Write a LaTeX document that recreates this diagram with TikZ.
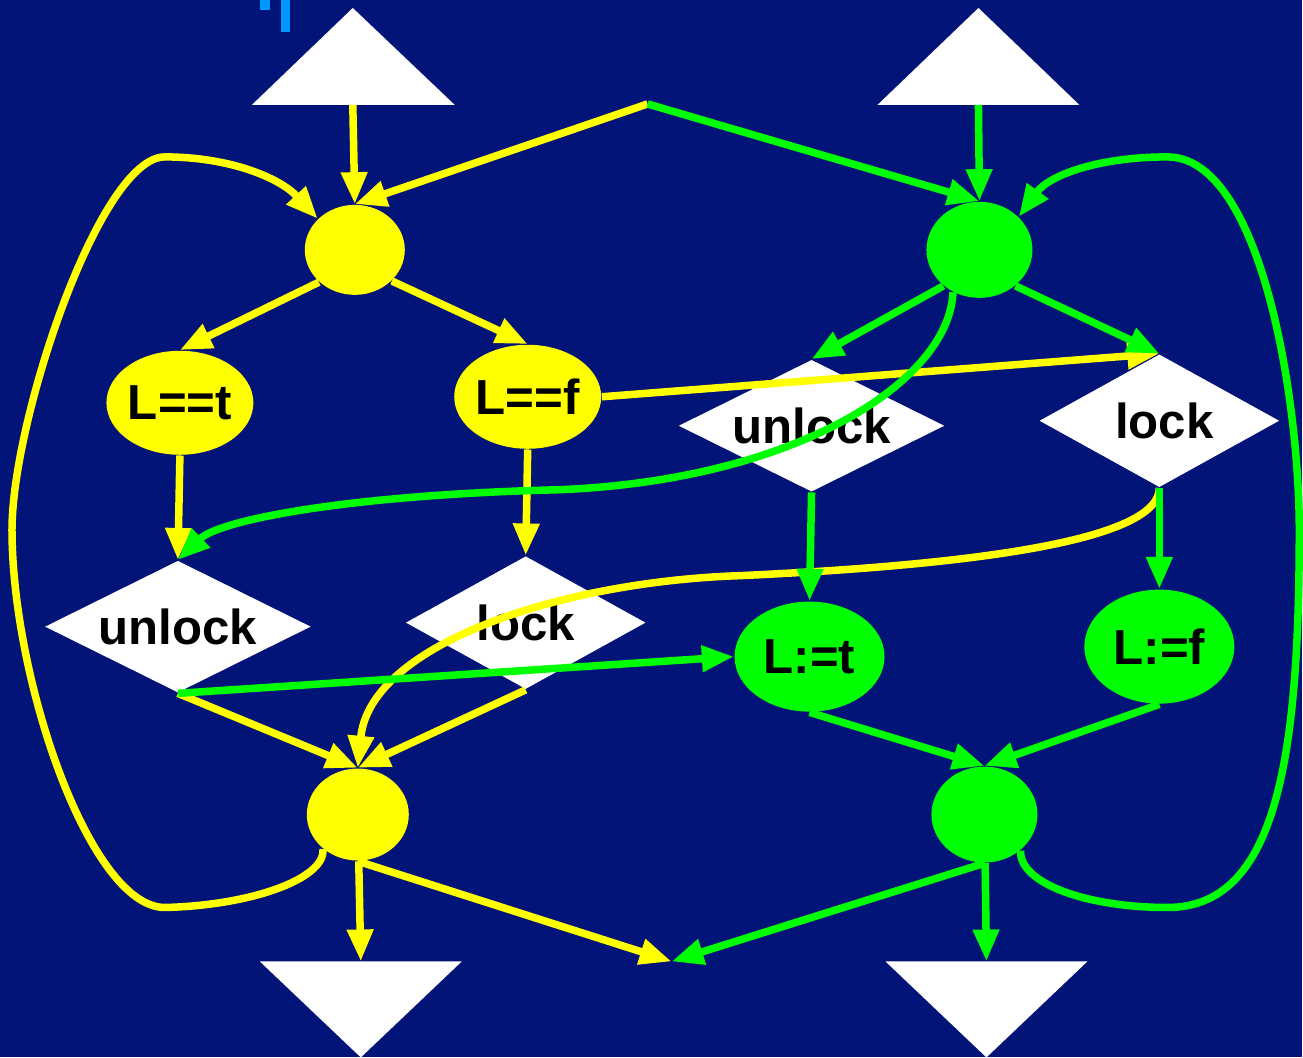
\documentclass[tikz,border=0pt]{standalone}
\usepackage{fontspec}
\setmainfont{Liberation Sans}
\usepackage{xcolor}
\usepackage{tikz}
\usetikzlibrary{shapes.geometric, arrows.meta}

\definecolor{navy}{RGB}{3,20,120}
\definecolor{ylw}{RGB}{255,255,0}
\definecolor{grn}{RGB}{0,255,0}
\definecolor{tick}{RGB}{0,150,255}

\tikzset{
    flow/.style={line width=0.075cm, -{Triangle[length=0.32cm,width=0.25cm]}},
    junction/.style={ellipse, inner sep=0pt, minimum width=1.0cm, minimum height=0.9cm},
    test/.style={ellipse, inner sep=0pt, minimum width=1.42cm, minimum height=1.04cm,
        font=\fontsize{14}{16}\selectfont\bfseries},
    choice/.style={diamond, aspect=2, fill=white, inner sep=0pt,
        minimum width=2.66cm, minimum height=1.32cm,
        font=\fontsize{14}{16}\selectfont\bfseries},
}

\begin{document}
\begin{tikzpicture}[x=0.01cm, y=-0.01cm]
    % Background
    \fill[navy] (0,0) rectangle (1303,1058);
    \fill[tick] (260,0) rectangle (270,10);
    \fill[tick] (281,0) rectangle (290,32);

    % Entry and exit triangles
    \fill[white] (252,105) -- (353,8) -- (455,105) -- cycle;
    \fill[white] (878,105) -- (979,8) -- (1080,105) -- cycle;
    \fill[white] (260,962) -- (462,962) -- (361,1058) -- cycle;
    \fill[white] (886,962) -- (1088,962) -- (987,1058) -- cycle;
    \coordinate (inA) at (353,105);
    \coordinate (inB) at (979,105);
    \coordinate (outA) at (361,962);
    \coordinate (outB) at (987,962);
    \coordinate (fork) at (648,104);
    \coordinate (join) at (672,962);

    % Yellow thread
    \node[junction, fill=ylw] (ytop) at (355,250) {};
    \node[test, fill=ylw] (lt) at (180,403) {L==t};
    \node[test, fill=ylw, minimum width=1.4cm] (lf) at (528,397) {L==f};
    \node[choice] (unlA) at (178,627) {unlock};
    \node[choice, minimum width=2.4cm, minimum height=1.33cm] (lockA) at (526,623) {lock};
    \node[junction, fill=ylw, minimum width=1.02cm, minimum height=0.92cm] (ybot) at (358,815) {};

    % Green thread
    \node[junction, fill=grn, minimum width=1.06cm, minimum height=0.96cm] (gtop) at (980,250) {};
    \node[choice] (unlB) at (812,426) {unlock};
    \node[choice, minimum width=2.4cm, minimum height=1.33cm] (lockB) at (1160,421) {\hspace{0.1cm}lock};
    \node[test, fill=grn, minimum width=1.5cm, minimum height=1.1cm] (st) at (810,657) {L:=t};
    \node[test, fill=grn, minimum width=1.5cm, minimum height=1.14cm] (sf) at (1160,647) {L:=f};
    \node[junction, fill=grn, minimum width=1.06cm, minimum height=0.96cm] (gbot) at (985,815) {};

    % Yellow edges
    \draw[flow, ylw] (inA) -- (ytop.north);
    \draw[flow, ylw] (fork) -- (ytop.north);
    \draw[flow, ylw] (ytop.222) -- (lt.north);
    \draw[flow, ylw] (ytop.-40) -- (lf.north);
    \draw[flow, ylw] (lt.south) -- (unlA.north);
    \draw[flow, ylw] (lf.south) -- (lockA.north);
    \draw[flow, ylw] (lf.east) -- (lockB.north);
    \draw[flow, ylw] (unlA.south) -- (ybot.north);
    \draw[flow, ylw] (lockA.south) -- (ybot.north);
    \draw[flow, ylw] (lockB.south) .. controls (1160,540) and (980,565) .. (740,576)
        .. controls (560,582) and (370,645) .. (ybot.north);
    \draw[flow, ylw] (ybot) -- (outA);
    \draw[flow, ylw] (ybot.south) -- (join);
    % yellow loop back
    \draw[flow, ylw] (ybot.225) .. controls (325,880) and (250,906) .. (165,908)
        .. controls (90,908) and (12,680) .. (12,530)
        .. controls (12,420) and (100,157) .. (165,157)
        .. controls (230,157) and (280,178) .. (ytop.140);

    % Green edges
    \draw[flow, grn] (inB) -- (gtop.north);
    \draw[flow, grn] (fork) -- (gtop.north);
    \draw[flow, grn] (gtop.225) -- (unlB.north);
    \draw[flow, grn] (gtop.-45) -- (lockB.north);
    \draw[flow, grn] (unlB.south) -- (st.north);
    \draw[flow, grn] (lockB.south) -- (sf.north);
    \draw[flow, grn] (gtop.238) .. controls (950,380) and (800,480) .. (560,490)
        .. controls (350,495) and (220,520) .. (unlA.north);
    \draw[flow, grn] (unlA.south) -- (st.west);
    \draw[flow, grn] (st.south) -- (gbot.north);
    \draw[flow, grn] (sf.south) -- (gbot.north);
    \draw[flow, grn] (gbot) -- (outB);
    \draw[flow, grn] (gbot.south) -- (join);
    % green loop back
    \draw[flow, grn] (gbot.315) .. controls (1020,885) and (1090,908) .. (1168,908)
        .. controls (1277,908) and (1300,760) .. (1300,530)
        .. controls (1300,400) and (1262,157) .. (1168,157)
        .. controls (1100,157) and (1050,175) .. (gtop.40);
\end{tikzpicture}
\end{document}
